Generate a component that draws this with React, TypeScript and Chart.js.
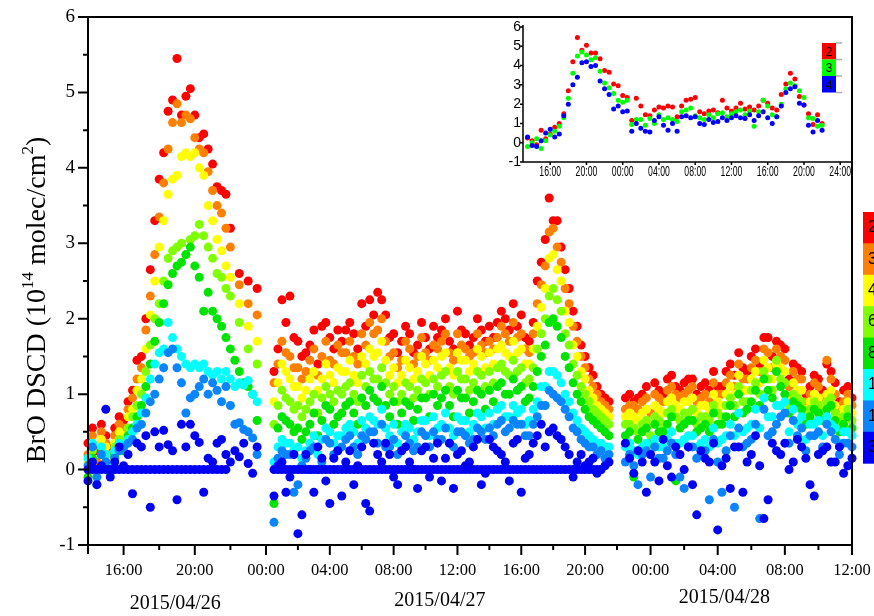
import React, { useEffect, useRef } from 'react';
import { Chart, registerables, LinearScale } from 'chart.js';

Chart.register(...registerables);

// ---------------- data (hours since 2015/04/26 00:00) ----------------
// scan set A
const times = [
  14, 14.25, 14.5, 14.75, 15, 15.25, 15.5, 15.75, 16, 16.25, 16.5, 16.75, 17, 17.25, 17.5, 17.75, 18, 18.25, 18.5, 18.75,
  19, 19.25, 19.5, 19.75, 20, 20.25, 20.5, 20.75, 21, 21.25, 21.5, 21.75, 22, 22.25, 22.5, 22.75, 23, 23.25, 23.5,
  24.5, 25, 25.5, 26, 26.5, 27, 27.5, 28, 28.5, 29, 29.5, 30, 30.5, 31, 31.5, 32, 32.5, 33, 33.5, 34, 34.5,
  35, 35.5, 36, 36.5, 37, 37.5, 38, 38.5, 39, 39.5, 40, 40.5, 41, 41.5, 42, 42.5, 43, 43.5, 44, 44.5, 45, 45.5,
  46.5, 47, 47.5, 48, 48.5, 49, 49.5, 50, 50.5, 51, 51.5, 52, 52.5, 53, 53.5, 54, 54.5, 55, 55.5, 56,
  56.5, 57, 57.5, 58, 58.5, 59, 59.5, 60,
];
// scan set B (interleaved scans, day 2 and day 3)
const timesB = [
  24.75, 25.25, 25.75, 26.25, 26.75, 27.25, 27.75, 28.25, 28.75, 29.25, 29.75, 30.25, 30.75, 31.25, 31.75, 32.25,
  32.75, 33.25, 33.75, 34.25, 34.75, 35.25, 35.75, 36.25, 36.75, 37.25, 37.75, 38.25, 38.75, 39.25, 39.75, 40.25,
  40.75, 41.25, 41.75, 42.25, 42.75, 43.25, 43.75, 44.25, 44.75, 45.25,
  46.75, 47.25, 47.75, 48.25, 48.75, 49.25, 49.75, 50.25, 50.75, 51.25, 51.75, 52.25, 52.75, 53.25, 53.75,
  54.25, 54.75, 55.25, 55.75, 56.25, 56.75, 57.25, 57.75, 58.25, 58.75, 59.25, 59.75,
];

const bro2 = [
  0.35, 0.55, 0.25, 0.6, 0.45, 0.3, 0.55, 0.7, 0.65, 0.9, 1.05, 1.45, 1.5, 2.0, 2.65, 3.3, 3.85, 4.2, 4.75, 4.9,
  5.45, 4.7, 4.95, 5.05, 4.7, 4.4, 4.45, 4.25, 4.05, 3.75, 3.7, 3.65, 3.2, null, 2.6, null, 2.5, null, 2.4,
  1.3, 2.25, 2.3, 1.7, 1.55, 1.85, 1.9, 1.75, 1.85, 1.85, 1.8, 2.2, 2.25, 2.35, 2.05, 1.8, 1.7, 1.8, 1.65, 1.75,
  1.9, 1.85, 1.7, 2.1, 1.8, 1.75, 1.85, 1.9, 1.95, 2.0, 2.2, 2.05, 1.7, 2.5, 3.05, 3.3, 2.95, 2.4, 1.9, 1.5, 1.25, 1.0, 0.9,
  0.95, 0.9, 1.0, null, 1.05, 1.2, 1.1, 1.15, 1.2, 1.1, 1.05, 1.1, 1.3, 1.25, 1.35, 1.5, 1.4, 1.75, 1.7, 1.6,
  1.4, 1.3, 1.1, 1.2, 1.4, 1.15, 1.05, 0.95,
];
const bro2b = [
  1.6, 1.95, 1.75, 1.5, 1.65, 1.4, 1.95, 1.6, 1.7, 1.95, 1.6, 1.9, 2.05, 2.25, 1.75, 1.55, 1.9, 1.55, 1.95, 1.6,
  1.75, 2.0, 1.6, 1.85, 1.65, 2.0, 1.7, 1.75, 2.1, 1.85, 1.9, 1.75, 1.95, 2.75, 3.6, 3.3, 2.65, 2.1, 1.65, 1.35, 1.1, 0.95,
  1.0, 0.95, 1.1, 1.15, 1.0, 1.25, 1.05, 1.2, 1.0, 1.15, 1.3, 1.1, 1.4, 1.55, 1.3, 1.6, 1.75, 1.5, 1.65, 1.2,
  1.35, 1.0, 1.25, 1.05, 1.3, 0.9, 1.1,
];
const bro3 = [
  0.2, 0.45, 0.1, 0.5, 0.35, 0.2, 0.45, 0.6, 0.55, 0.8, 0.95, 1.2, 1.35, 1.85, 2.3, 2.85, 3.35, 3.8, 4.25, 4.6,
  4.85, 4.6, 4.7, 4.65, 4.4, 4.25, 4.2, 3.95, 3.7, 3.5, 3.4, 3.2, 2.95, null, 2.45, null, 2.2, null, 2.05,
  1.15, 1.7, 1.5, 1.35, 1.3, 1.6, 1.5, 1.45, 1.65, 1.55, 1.5, 1.8, 1.95, 1.85, 1.7, 1.55, 1.45, 1.6, 1.5, 1.55,
  1.65, 1.7, 1.55, 1.8, 1.6, 1.55, 1.65, 1.7, 1.75, 1.8, 1.95, 1.8, 1.55, 2.2, 2.7, 3.2, 2.75, 2.2, 1.7, 1.35, 1.1, 0.9, 0.8,
  0.8, 0.85, 0.9, 0.75, 0.95, 1.05, 1.0, 1.0, 1.1, 0.95, 0.9, 1.0, 1.15, 1.1, 1.2, 1.35, 1.3, 1.55, 1.6, 1.45,
  1.3, 1.2, 1.0, 1.1, 1.45, 1.0, 0.9, 0.85,
];
const bro3b = [
  1.4, 1.55, 1.35, 1.2, 1.45, 1.25, 1.7, 1.4, 1.55, 1.7, 1.4, 1.65, 1.8, 2.0, 1.5, 1.35, 1.7, 1.4, 1.75, 1.45,
  1.6, 1.8, 1.45, 1.65, 1.5, 1.8, 1.55, 1.6, 1.9, 1.7, 1.75, 1.6, 1.8, 2.45, 3.15, 2.95, 2.4, 1.9, 1.5, 1.2, 1.0, 0.85,
  0.85, 0.8, 0.95, 1.0, 0.9, 1.1, 0.95, 1.05, 0.9, 1.0, 1.15, 1.0, 1.25, 1.4, 1.2, 1.45, 1.6, 1.35, 1.5, 1.1,
  1.2, 0.9, 1.15, 0.95, 1.2, 0.8, 1.0,
];
const bro4 = [
  0.1, 0.35, 0.0, 0.4, 0.3, 0.1, 0.35, 0.5, 0.45, 0.7, 0.8, 1.05, 1.2, 1.6, 2.05, 2.5, 2.95, 3.3, 3.65, 3.85,
  3.9, 4.15, 4.2, 4.15, 4.2, 4.0, 3.9, 3.5, 3.3, 3.05, 2.9, 2.7, 2.55, null, 2.2, null, 1.9, null, 1.7,
  0.9, 1.4, 1.2, 1.1, 1.05, 1.3, 1.2, 1.25, 1.35, 1.3, 1.25, 1.5, 1.6, 1.55, 1.45, 1.35, 1.25, 1.35, 1.3, 1.4,
  1.45, 1.5, 1.35, 1.55, 1.45, 1.4, 1.5, 1.55, 1.6, 1.55, 1.7, 1.6, 1.4, 1.9, 2.4, 2.85, 2.5, 1.95, 1.5, 1.2, 0.95, 0.8, 0.7,
  0.7, 0.7, 0.75, 0.6, 0.8, 0.9, 0.85, 0.9, 0.95, 0.85, 0.8, 0.9, 1.0, 1.0, 1.05, 1.2, 1.15, 1.35, 1.4, 1.3,
  1.15, 1.05, 0.9, 0.95, 1.0, 0.85, 0.8, 0.75,
];
const bro4b = [
  1.15, 1.3, 1.1, 0.95, 1.2, 1.05, 1.4, 1.15, 1.3, 1.45, 1.15, 1.4, 1.5, 1.7, 1.25, 1.15, 1.45, 1.2, 1.5, 1.25,
  1.35, 1.55, 1.25, 1.45, 1.3, 1.6, 1.35, 1.4, 1.65, 1.5, 1.55, 1.4, 1.6, 2.15, 2.8, 2.65, 2.1, 1.65, 1.3, 1.05, 0.85, 0.75,
  0.75, 0.65, 0.8, 0.85, 0.75, 0.95, 0.8, 0.9, 0.75, 0.85, 1.0, 0.85, 1.1, 1.25, 1.05, 1.3, 1.45, 1.2, 1.35, 0.95,
  1.05, 0.8, 1.0, 0.85, 1.05, 0.7, 0.9,
];
const bro6 = [
  0.0, 0.25, -0.1, 0.3, 0.2, 0.05, 0.3, 0.4, 0.35, 0.55, 0.7, 0.85, 1.0, 1.3, 1.65, 2.0, 2.2, 2.5, 2.8, 2.9,
  2.95, 3.0, 2.85, 3.05, 3.1, 3.25, 3.1, 2.95, 2.8, 2.6, 2.55, 2.4, 2.3, null, 1.95, null, 1.6, null, 1.4,
  0.6, 1.05, 0.9, 0.85, 0.8, 1.0, 0.95, 1.0, 1.05, 1.1, 1.0, 1.25, 1.3, 1.2, 1.15, 1.1, 1.0, 1.1, 1.05, 1.15,
  1.2, 1.25, 1.1, 1.3, 1.2, 1.15, 1.25, 1.3, 1.35, 1.3, 1.45, 1.35, 1.2, 1.6, 2.0, 2.4, 2.1, 1.65, 1.25, 1.0, 0.8, 0.7, 0.6,
  0.6, 0.55, 0.6, 0.45, 0.65, 0.75, 0.7, 0.75, 0.8, 0.7, 0.65, 0.75, 0.85, 0.85, 0.9, 1.05, 1.0, 1.2, 1.45, 1.15,
  1.0, 0.9, 0.8, 0.85, 0.9, 0.75, 0.7, 0.65,
];
const bro6b = [
  0.85, 0.95, 0.8, 0.7, 0.9, 0.75, 1.1, 0.9, 1.0, 1.15, 0.9, 1.1, 1.2, 1.35, 1.0, 0.9, 1.15, 0.95, 1.2, 1.0,
  1.1, 1.3, 1.0, 1.2, 1.05, 1.3, 1.1, 1.15, 1.4, 1.25, 1.3, 1.15, 1.35, 1.8, 2.3, 2.25, 1.8, 1.4, 1.1, 0.9, 0.75, 0.65,
  0.6, 0.5, 0.65, 0.7, 0.6, 0.8, 0.65, 0.75, 0.6, 0.7, 0.85, 0.7, 0.95, 1.1, 0.9, 1.15, 1.3, 1.05, 1.2, 0.85,
  0.95, 0.7, 0.9, 0.75, 0.95, 0.6, 0.8,
];
const bro8 = [
  -0.1, 0.15, -0.2, 0.2, 0.1, -0.05, 0.2, 0.3, 0.25, 0.45, 0.55, 0.7, 0.85, 1.1, 1.4, 1.7, 1.95, 2.2, 2.45, 2.6,
  2.7, 2.75, 2.85, 2.95, 2.7, 2.55, 2.1, 2.35, 2.1, 2.0, 1.9, 1.75, 1.6, 1.45, 1.3, 1.15, 1.1, 1.0, 0.65,
  -0.45, 0.7, 0.6, 0.55, 0.5, 0.75, 0.65, 0.8, 0.7, 0.85, 0.75, 0.95, 1.05, 0.9, 0.85, 0.9, 0.75, 0.85, 0.8, 0.95,
  1.0, 0.95, 0.85, 1.05, 0.95, 0.9, 1.0, 1.05, 1.1, 1.0, 1.2, 1.1, 0.95, 1.3, 1.65, 2.0, 1.75, 1.35, 1.0, 0.8, 0.65, 0.55, 0.45,
  0.45, -0.1, 0.5, 0.35, 0.5, 0.6, -0.15, 0.6, 0.65, 0.55, 0.5, 0.6, 0.7, 0.7, 0.75, 0.9, 0.85, 1.05, 1.3, 1.0,
  0.9, 0.8, 0.7, 0.75, 0.8, 0.65, 0.6, 0.55,
];
const bro8b = [
  0.55, 0.65, 0.5, 0.4, 0.6, 0.45, 0.85, 0.6, 0.75, 0.9, 0.6, 0.85, 0.95, 1.1, 0.7, 0.6, 0.9, 0.65, 0.95, 0.7,
  0.85, 1.05, 0.7, 0.95, 0.75, 1.05, 0.8, 0.9, 1.15, 1.0, 1.05, 0.9, 1.1, 1.5, 1.95, 1.9, 1.5, 1.15, 0.9, 0.7, 0.6, 0.5,
  0.5, 0.4, 0.55, 0.6, 0.5, 0.7, 0.55, 0.65, 0.5, 0.6, 0.75, 0.6, 0.85, 1.0, 0.8, 1.05, 1.2, 0.95, 1.1, 0.75,
  0.85, 0.6, 0.8, 0.65, 0.85, 0.5, 0.7,
];
const bro10 = [
  0.15, 0.35, 0.0, 0.3, 0.2, 0.05, 0.25, 0.35, 0.3, 0.4, 0.5, 0.6, 0.75, 0.95, 1.2, 1.4, 1.55, 1.6, 1.95, 1.75,
  1.6, 1.5, 1.4, 1.35, 1.4, 1.35, 1.4, 1.3, 1.25, 1.3, 1.2, 1.3, 1.2, 1.1, 1.15, 1.12, 1.18, 1.0, 0.9,
  0.1, 0.4, 0.35, 0.3, 0.25, 0.45, 0.4, 0.5, 0.45, 0.55, 0.5, 0.65, 0.7, 0.6, 0.55, 0.6, 0.5, 0.55, 0.5, 0.65,
  0.7, 0.6, 0.55, 0.7, 0.65, 0.6, 0.7, 0.75, 0.8, 0.7, 0.85, 0.8, 0.65, 0.9, 1.1, 1.3, 1.15, 0.9, 0.65, 0.5, 0.4, 0.35, 0.3,
  0.3, 0.25, 0.3, 0.2, 0.3, 0.4, 0.35, 0.4, 0.45, 0.35, 0.3, 0.35, 0.45, 0.45, 0.5, 0.6, 0.55, 0.7, 0.85, 0.9,
  0.8, 0.7, 0.6, 0.65, 0.7, 0.55, 0.5, 0.45,
];
const bro10b = [
  0.3, 0.35, 0.25, 0.15, 0.35, 0.2, 0.55, 0.35, 0.45, 0.6, 0.35, 0.55, 0.65, 0.8, 0.45, 0.35, 0.6, 0.4, 0.65, 0.45,
  0.55, 0.75, 0.45, 0.65, 0.5, 0.75, 0.55, 0.6, 0.85, 0.7, 0.75, 0.6, 0.8, 1.1, 1.3, 1.25, 1.0, 0.75, 0.55, 0.45, 0.35, 0.3,
  0.35, 0.2, 0.35, 0.4, 0.3, 0.5, 0.35, 0.45, 0.3, 0.4, 0.55, 0.4, 0.6, 0.75, 0.55, 0.8, 0.95, 0.7, 0.85, 0.5,
  0.6, 0.4, 0.6, 0.45, 0.6, 0.35, 0.5,
];
const bro15 = [
  0.05, 0.3, -0.1, 0.2, 0.1, 0.0, 0.15, 0.25, 0.3, 0.35, 0.4, 0.55, 0.6, 0.75, 0.9, 1.0, 1.2, 1.35, 1.55, 1.6,
  1.35, 1.15, 0.75, 0.95, 1.0, 1.1, 1.2, 1.0, 1.15, 1.05, 0.9, 1.1, 0.85, 0.6, 0.62, 0.53, 0.5, 0.42, 0.2,
  -0.7, 0.25, 0.2, -0.2, 0.15, 0.3, 0.1, 0.35, 0.25, 0.4, 0.3, 0.45, 0.5, 0.35, 0.3, 0.4, 0.25, 0.35, 0.3, 0.45,
  0.5, 0.4, 0.35, 0.5, 0.45, 0.4, 0.5, 0.55, 0.6, 0.5, 0.65, 0.6, 0.45, 0.7, 0.85, 1.0, 0.9, 0.7, 0.5, 0.35, 0.3, 0.25, 0.2,
  0.1, 0.05, 0.2, -0.1, 0.15, 0.25, 0.2, -0.25, 0.3, 0.2, -0.4, 0.1, 0.25, -0.5, 0.3, 0.4, -0.65, 0.45, 0.6, 0.75,
  0.65, 0.55, 0.45, 0.5, 0.6, 0.4, 0.35, 0.3,
];
const bro15b = [
  0.15, 0.2, -0.3, 0.05, 0.25, 0.0, 0.4, 0.2, 0.3, 0.45, 0.2, 0.4, 0.5, 0.6, 0.3, 0.2, 0.45, 0.25, 0.5, 0.3,
  0.4, 0.55, 0.3, 0.5, 0.35, 0.55, 0.4, 0.45, 0.65, 0.55, 0.6, 0.45, 0.6, 0.85, 1.05, 0.95, 0.8, 0.55, 0.4, 0.3, 0.2, 0.15,
  0.2, -0.2, 0.25, 0.3, 0.15, 0.35, -0.1, 0.3, 0.15, 0.25, 0.4, -0.3, 0.45, 0.55, 0.35, 0.6, 0.8, 0.5, 0.7, 0.35,
  0.45, 0.25, 0.45, 0.3, 0.5, 0.2, 0.35,
];
const bro30 = [
  -0.15, 0.1, -0.2, 0.05, 0.8, -0.1, 0.1, 0.3, 0.05, 0.2, -0.32, 0.35, 0.3, 0.45, -0.5, 0.5, 0.3, 0.52, 0.33, 0.25,
  -0.4, 0.6, 0.3, 0.6, 0.45, 0.36, -0.3, 0.15, 0.1, 0.35, 0.4, 0.2, 0.1, 0.25, 0.17, 0.35, 0.08, -0.05, 0.3,
  -0.35, 0.1, -0.1, -0.85, 0.2, -0.3, 0.15, -0.45, 0.25, 0.1, -0.2, 0.3, -0.55, 0.2, 0.35, -0.1, 0.25, 0.1, -0.25, 0.3,
  0.15, -0.15, 0.35, 0.2, 0.05, 0.3, -0.2, 0.4, 0.25, 0.1, 0.35, -0.3, 0.2, 0.45, 0.3, 0.55, 0.4, 0.2, 0.1, 0.05, 0.15, 0.0, 0.1,
  0.35, -0.05, 0.1, 0.2, -0.15, 0.05, 0.3, 0.0, -0.2, 0.25, 0.1, -0.8, 0.15, 0.3, -0.3, 0.2, 0.05, -0.4, 0.25, 0.35,
  0.1, 0.3, -0.2, 0.2, 0.3, 0.1, -0.05, 0.15,
];
const bro30b = [
  0.05, -0.3, 0.2, -0.6, 0.0, 0.3, -0.15, 0.15, -0.35, 0.25, 0.05, -0.45, 0.35, 0.1, 0.2, -0.2, 0.3, 0.0, 0.25, -0.1,
  0.35, 0.15, -0.25, 0.25, 0.1, 0.4, -0.05, 0.3, 0.2, -0.15, 0.4, 0.15, 0.35, 0.6, 0.5, 0.45, 0.3, -0.1, 0.2, 0.1, -0.05, 0.05,
  0.15, 0.25, -0.3, 0.1, 0.4, -0.1, 0.2, 0.3, -0.6, 0.15, 0.35, 0.05, -0.25, 0.3, 0.1, 0.45, -0.65, 0.35, 0.2, 0.0,
  0.4, 0.15, -0.35, 0.25, 0.1, 0.3, 0.05,
];
// zenith reference measurements (DSCD = 0)
const bro90 = [
  0, 0, 0, 0, 0, 0, 0, 0, 0, 0, 0, 0, 0, 0, 0, 0, 0, 0, 0, 0,
  0, 0, 0, 0, 0, 0, 0, 0, 0, 0, 0, 0, null, null, null, null, null, null, null,
  0, 0, 0, 0, 0, 0, 0, 0, 0, 0, 0, 0, 0, 0, 0, 0, 0, 0, 0, 0,
  0, 0, 0, 0, 0, 0, 0, 0, 0, 0, 0, 0, 0, 0, 0, 0, 0, 0, 0, 0, 0, 0, null,
  null, null, null, null, null, null, null, null, null, null, null, null, null, null, null, null, null, null, null, null,
  null, null, null, null, null, null, null, null,
];
const bro90b = [
  0, 0, 0, 0, 0, 0, 0, 0, 0, 0, 0, 0, 0, 0, 0, 0, 0, 0, 0, 0,
  0, 0, 0, 0, 0, 0, 0, 0, 0, 0, 0, 0, 0, 0, 0, 0, 0, 0, 0, 0, 0, null,
  null, null, null, null, null, null, null, null, null, null, null, null, null, null, null, null, null, null, null, null,
  null, null, null, null, null, null, null,
];

const elevationLabels = ['2', '3', '4', '6', '8', '10', '15', '30'];
const elevationColors = ['#ff0000', '#ff8000', '#ffff00', '#80ff00', '#00e400', '#00ffff', '#0a84ff', '#0000f5'];

// inset
const insetTimes = [
  13.5, 14, 14.5, 15, 15.5, 16, 16.5, 17, 17.5, 18, 18.5, 19, 19.5, 20, 20.5, 21, 21.5, 22, 22.5, 23,
  23.5, 24, 24.5, 25, 25.5, 26, 26.5, 27, 27.5, 28, 28.5, 29, 29.5, 30, 30.5, 31, 31.5, 32, 32.5, 33,
  33.5, 34, 34.5, 35, 35.5, 36, 36.5, 37, 37.5, 38, 38.5, 39, 39.5, 40, 40.5, 41, 41.5, 42, 42.5, 43,
  43.5, 44, 44.5, 45, 45.5, 46,
];
const insetRed = [
  0.25, 0.1, -0.1, 0.65, 0.2, 0.45, 0.8, 1.0, 1.5, 2.7, 4.2, 5.45, 4.8, 5.05, 4.65, 4.65, 4.35, 3.75, 3.65, 3.05,
  2.95, 2.45, 2.35, 1.15, 2.3, 1.9, 1.45, 1.4, 1.7, 1.85, 1.8, 1.9, 1.85, 1.35, 1.9, 2.2, 2.25, 2.35, 1.6, 1.5,
  1.65, 1.7, 1.55, 2.2, 1.8, 1.65, 1.8, 2.05, 1.75, 1.85, 1.7, 1.9, 2.2, 2.05, 1.8, 1.7, 2.5, 3.05, 3.6, 3.3,
  2.4, 1.95, 1.5, 0.95, 1.45, 1.0,
];
const insetGreen = [
  -0.2, 0.0, 0.2, -0.3, 0.1, 0.4, 0.6, 0.85, 1.3, 2.3, 3.6, 4.5, 4.7, 4.55, 4.3, 4.4, 3.7, 3.1, 2.85, 2.55,
  2.2, 2.1, 2.2, 0.95, 1.2, 1.2, 0.9, 1.25, 1.0, 1.45, 1.2, 1.3, 1.2, 1.1, 1.6, 1.7, 1.8, 1.4, 1.3, 1.2,
  1.45, 1.3, 1.5, 1.55, 1.35, 1.5, 1.6, 1.7, 1.45, 1.65, 0.85, 1.6, 2.2, 1.9, 1.45, 1.35, 2.0, 2.8, 3.1, 2.95,
  2.7, 2.35, 1.3, 1.25, 0.85, 0.9,
];
const insetBlue = [
  0.3, -0.15, -0.2, 0.1, 0.5, 0.7, 0.3, 0.45, 1.4, 2.0, 3.0, 3.4, 4.15, 4.2, 3.95, 4.0, 3.2, 2.8, 2.5, 1.75,
  1.9, 1.6, 1.65, 0.6, 1.0, 0.75, 0.6, 0.55, 1.15, 1.35, 0.9, 0.65, 1.0, 0.6, 1.35, 1.4, 1.3, 1.35, 1.0, 0.95,
  1.2, 1.05, 1.1, 1.3, 1.15, 1.3, 1.4, 1.3, 1.25, 1.45, 1.15, 1.4, 1.6, 1.3, 1.0, 1.35, 1.9, 2.6, 2.8, 2.9,
  2.05, 1.95, 0.9, 0.55, 1.15, 0.65,
];
const insetLabels = ['2', '3', '4'];
const insetColors = ['#ff0000', '#00ff00', '#0000ff'];

// ticks
const yTicks = [-1, 0, 1, 2, 3, 4, 5, 6];
const yMinorTicks = [-0.5, 0.5, 1.5, 2.5, 3.5, 4.5, 5.5];
const xMajorTicks = [16, 20, 24, 28, 32, 36, 40, 44, 48, 52, 56, 60];
const xTickLabels = ['16:00', '20:00', '00:00', '04:00', '08:00', '12:00', '16:00', '20:00', '00:00', '04:00', '08:00', '12:00'];
const xMinorTicks = [14, 18, 22, 26, 30, 34, 38, 42, 46, 50, 54, 58];
const dateLabels = ['2015/04/26', '2015/04/27', '2015/04/28'];
const dateLabelHours = [18.9, 34.9, 52.4];
const insetXTicks = [16, 20, 24, 28, 32, 36, 40, 44, 48];
const insetXTickLabels = ['16:00', '20:00', '00:00', '04:00', '08:00', '12:00', '16:00', '20:00', '24:00'];

// ---------------- stitched (three-panel) time scale ----------------
const X_SEGMENTS = [
  { from: 14, to: 24, weight: 178 },
  { from: 24, to: 46, weight: 351 },
  { from: 46, to: 60, weight: 235 },
];
const SEG_TOTAL = X_SEGMENTS.reduce((s, g) => s + g.weight, 0);

function hourToDecimal(h: number): number {
  let acc = 0;
  for (let i = 0; i < X_SEGMENTS.length; i++) {
    const g = X_SEGMENTS[i];
    if (h <= g.to || i === X_SEGMENTS.length - 1) {
      return (acc + ((h - g.from) / (g.to - g.from)) * g.weight) / SEG_TOTAL;
    }
    acc += g.weight;
  }
  return 1;
}
function decimalToHour(d: number): number {
  const target = d * SEG_TOTAL;
  let acc = 0;
  for (let i = 0; i < X_SEGMENTS.length; i++) {
    const g = X_SEGMENTS[i];
    if (target <= acc + g.weight || i === X_SEGMENTS.length - 1) {
      return g.from + ((target - acc) / g.weight) * (g.to - g.from);
    }
    acc += g.weight;
  }
  return X_SEGMENTS[X_SEGMENTS.length - 1].to;
}

class StitchedTimeScale extends LinearScale {
  static id = 'stitchedTime';
  getPixelForValue(value: number) {
    if (value === null || value === undefined || isNaN(value)) return NaN;
    return this.getPixelForDecimal(hourToDecimal(value));
  }
  getValueForPixel(pixel: number) {
    return decimalToHour(this.getDecimalForPixel(pixel));
  }
}
Chart.register(StitchedTimeScale as any);

function toPoints(xs: number[], ys: (number | null)[]) {
  const out: { x: number; y: number }[] = [];
  for (let i = 0; i < xs.length; i++) {
    const v = ys[i];
    if (v !== null && v !== undefined) out.push({ x: xs[i], y: v });
  }
  return out;
}

const SERIF = '"Liberation Serif", "Times New Roman", serif';
const SANS = '"Liberation Sans", Arial, sans-serif';

const mainDecor = {
  id: 'mainDecor',
  afterDraw(chart: any) {
    const { ctx, chartArea, scales } = chart;
    const { left, right, top, bottom } = chartArea;
    const x = scales.x;
    const y = scales.y;
    ctx.save();
    ctx.strokeStyle = '#000';
    ctx.lineWidth = 2;
    ctx.beginPath();
    ctx.moveTo(left, top);
    ctx.lineTo(right + 1, top);
    ctx.moveTo(right, top);
    ctx.lineTo(right, bottom);
    ctx.moveTo(left, bottom);
    ctx.lineTo(right + 1, bottom);
    ctx.moveTo(left, top - 1);
    ctx.lineTo(left, bottom + 9);
    yTicks.forEach((v) => {
      const py = y.getPixelForValue(v);
      ctx.moveTo(left - 10, py);
      ctx.lineTo(left, py);
    });
    yMinorTicks.forEach((v) => {
      const py = y.getPixelForValue(v);
      ctx.moveTo(left - 5, py);
      ctx.lineTo(left, py);
    });
    xMajorTicks.forEach((v) => {
      const px = x.getPixelForValue(v);
      ctx.moveTo(px, bottom);
      ctx.lineTo(px, bottom + 10);
    });
    xMinorTicks.forEach((v) => {
      const px = x.getPixelForValue(v);
      ctx.moveTo(px, bottom);
      ctx.lineTo(px, bottom + 5);
    });
    ctx.stroke();

    ctx.fillStyle = '#000';
    ctx.font = `19px ${SERIF}`;
    ctx.textAlign = 'right';
    ctx.textBaseline = 'middle';
    yTicks.forEach((v) => ctx.fillText(String(v), left - 13, y.getPixelForValue(v)));

    ctx.font = `16.5px ${SERIF}`;
    ctx.textAlign = 'center';
    ctx.textBaseline = 'alphabetic';
    xMajorTicks.forEach((v, i) => ctx.fillText(xTickLabels[i], x.getPixelForValue(v), bottom + 30));

    ctx.font = `20px ${SERIF}`;
    const dateBase = [64, 61, 58];
    dateLabels.forEach((t, i) => ctx.fillText(t, x.getPixelForValue(dateLabelHours[i]), bottom + dateBase[i]));

    // y title with superscripts
    const parts = [
      { t: 'BrO DSCD (10', sup: false },
      { t: '14', sup: true },
      { t: ' molec/cm', sup: false },
      { t: '2', sup: true },
      { t: ')', sup: false },
    ];
    const big = `28px ${SERIF}`;
    const small = `17px ${SERIF}`;
    let total = 0;
    parts.forEach((p) => {
      ctx.font = p.sup ? small : big;
      total += ctx.measureText(p.t).width;
    });
    ctx.save();
    ctx.translate(45, 300);
    ctx.rotate(-Math.PI / 2);
    ctx.textAlign = 'left';
    let cx = -total / 2;
    parts.forEach((p) => {
      ctx.font = p.sup ? small : big;
      ctx.fillText(p.t, cx, p.sup ? -12 : 0);
      cx += ctx.measureText(p.t).width;
    });
    ctx.restore();

    // colour bar legend (elevation angles)
    const cbTop = 212;
    const cbH = 31.4;
    elevationColors.forEach((c, i) => {
      ctx.fillStyle = c;
      ctx.fillRect(863, cbTop + i * cbH, 20, cbH + 0.5);
    });
    ctx.fillStyle = '#000';
    ctx.font = `16px ${SANS}`;
    ctx.textAlign = 'left';
    ctx.textBaseline = 'middle';
    elevationLabels.forEach((l, i) => ctx.fillText(l, 868, cbTop + (i + 0.5) * cbH));
    ctx.restore();
  },
};

const insetDecor = {
  id: 'insetDecor',
  afterDraw(chart: any) {
    const { ctx, chartArea, scales } = chart;
    const { left, right, top, bottom } = chartArea;
    const x = scales.x;
    const y = scales.y;
    ctx.save();
    ctx.strokeStyle = '#000';
    ctx.lineWidth = 1.5;
    ctx.beginPath();
    ctx.moveTo(left, top - 2);
    ctx.lineTo(left, bottom);
    ctx.moveTo(left, bottom);
    ctx.lineTo(right, bottom);
    yTicks.forEach((v) => {
      const py = y.getPixelForValue(v);
      ctx.moveTo(left - 3, py);
      ctx.lineTo(left, py);
    });
    insetXTicks.forEach((v) => {
      const px = x.getPixelForValue(v);
      ctx.moveTo(px, bottom);
      ctx.lineTo(px, bottom + 3);
    });
    ctx.stroke();

    ctx.fillStyle = '#000';
    ctx.font = `14px ${SANS}`;
    ctx.textAlign = 'right';
    ctx.textBaseline = 'middle';
    yTicks.forEach((v) => ctx.fillText(String(v), left - 2, y.getPixelForValue(v)));

    ctx.font = `14px ${SANS}`;
    ctx.textAlign = 'center';
    ctx.textBaseline = 'alphabetic';
    insetXTicks.forEach((v, i) => {
      ctx.save();
      ctx.translate(x.getPixelForValue(v), bottom + 14);
      ctx.scale(0.62, 1);
      ctx.fillText(insetXTickLabels[i], 0, 0);
      ctx.restore();
    });

    // legend boxes
    const lx = right - 30;
    const ly = top + 16;
    const lh = 16.5;
    insetColors.forEach((c, i) => {
      ctx.fillStyle = c;
      ctx.fillRect(lx, ly + i * lh, 14, lh);
    });
    ctx.fillStyle = '#000';
    ctx.font = `12px ${SANS}`;
    ctx.textAlign = 'center';
    ctx.textBaseline = 'middle';
    insetLabels.forEach((l, i) => ctx.fillText(l, lx + 7, ly + (i + 0.5) * lh + 1));
    ctx.strokeStyle = '#b0b0b0';
    ctx.lineWidth = 1.5;
    ctx.beginPath();
    for (let i = 0; i <= insetLabels.length; i++) {
      ctx.moveTo(lx + 14, ly + i * lh);
      ctx.lineTo(lx + 20, ly + i * lh);
    }
    ctx.stroke();

    // right frame line of the main plot passes over the inset
    ctx.strokeStyle = '#000';
    ctx.lineWidth = 2;
    ctx.beginPath();
    ctx.moveTo(right, 0);
    ctx.lineTo(right, chart.height);
    ctx.stroke();
    ctx.restore();
  },
};

export default function App() {
  const mainRef = useRef<HTMLCanvasElement>(null);
  const insetRef = useRef<HTMLCanvasElement>(null);

  useEffect(() => {
    const series = [
      { a: bro90, b: bro90b, color: elevationColors[7] },
      { a: bro30, b: bro30b, color: elevationColors[7] },
      { a: bro15, b: bro15b, color: elevationColors[6] },
      { a: bro10, b: bro10b, color: elevationColors[5] },
      { a: bro8, b: bro8b, color: elevationColors[4] },
      { a: bro6, b: bro6b, color: elevationColors[3] },
      { a: bro4, b: bro4b, color: elevationColors[2] },
      { a: bro3, b: bro3b, color: elevationColors[1] },
      { a: bro2, b: bro2b, color: elevationColors[0] },
    ];
    const main = new Chart(mainRef.current as HTMLCanvasElement, {
      type: 'scatter',
      data: {
        datasets: series.map((s) => ({
          data: [...toPoints(times, s.a), ...toPoints(timesB, s.b)],
          backgroundColor: s.color,
          borderWidth: 0,
          pointRadius: 4.5,
          pointHoverRadius: 4.5,
          clip: 6,
        })),
      },
      options: {
        animation: false,
        responsive: false,
        devicePixelRatio: 1,
        events: [],
        layout: { padding: { top: 17, right: 22, left: 0, bottom: 0 } },
        plugins: { legend: { display: false }, tooltip: { enabled: false } },
        scales: {
          x: {
            type: 'stitchedTime' as any,
            min: 14,
            max: 60,
            grid: { display: false, drawTicks: false },
            border: { display: false },
            ticks: { display: false },
            afterFit: (s: any) => {
              s.height = 71;
            },
          },
          y: {
            min: -1,
            max: 6,
            grid: { display: false, drawTicks: false },
            border: { display: false },
            ticks: { display: false, stepSize: 1 },
            afterFit: (s: any) => {
              s.width = 88;
            },
          },
        },
      } as any,
      plugins: [mainDecor],
    });

    const insetSeries = [
      { values: insetBlue, color: insetColors[2] },
      { values: insetGreen, color: insetColors[1] },
      { values: insetRed, color: insetColors[0] },
    ];
    const inset = new Chart(insetRef.current as HTMLCanvasElement, {
      type: 'scatter',
      data: {
        datasets: insetSeries.map((s) => ({
          data: toPoints(insetTimes, s.values),
          backgroundColor: s.color,
          borderWidth: 0,
          pointRadius: 2.5,
          pointHoverRadius: 2.5,
          clip: 4,
        })),
      },
      options: {
        animation: false,
        responsive: false,
        devicePixelRatio: 1,
        events: [],
        layout: { padding: { top: 10, right: 22, left: 0, bottom: 0 } },
        plugins: { legend: { display: false }, tooltip: { enabled: false } },
        scales: {
          x: {
            type: 'linear',
            min: 13,
            max: 49.3,
            grid: { display: false, drawTicks: false },
            border: { display: false },
            ticks: { display: false },
            afterFit: (s: any) => {
              s.height = 25;
            },
          },
          y: {
            min: -1,
            max: 6,
            grid: { display: false, drawTicks: false },
            border: { display: false },
            ticks: { display: false, stepSize: 1 },
            afterFit: (s: any) => {
              s.width = 43;
            },
          },
        },
      } as any,
      plugins: [insetDecor],
    });

    return () => {
      main.destroy();
      inset.destroy();
    };
  }, []);

  return (
    <div style={{ position: 'absolute', left: 0, top: 0, width: 874, height: 616, background: '#fff', overflow: 'hidden' }}>
      <canvas ref={mainRef} width={874} height={616} style={{ position: 'absolute', left: 0, top: 0, width: 874, height: 616 }} />
      <canvas ref={insetRef} width={394} height={170} style={{ position: 'absolute', left: 480, top: 17, width: 394, height: 170 }} />
    </div>
  );
}
